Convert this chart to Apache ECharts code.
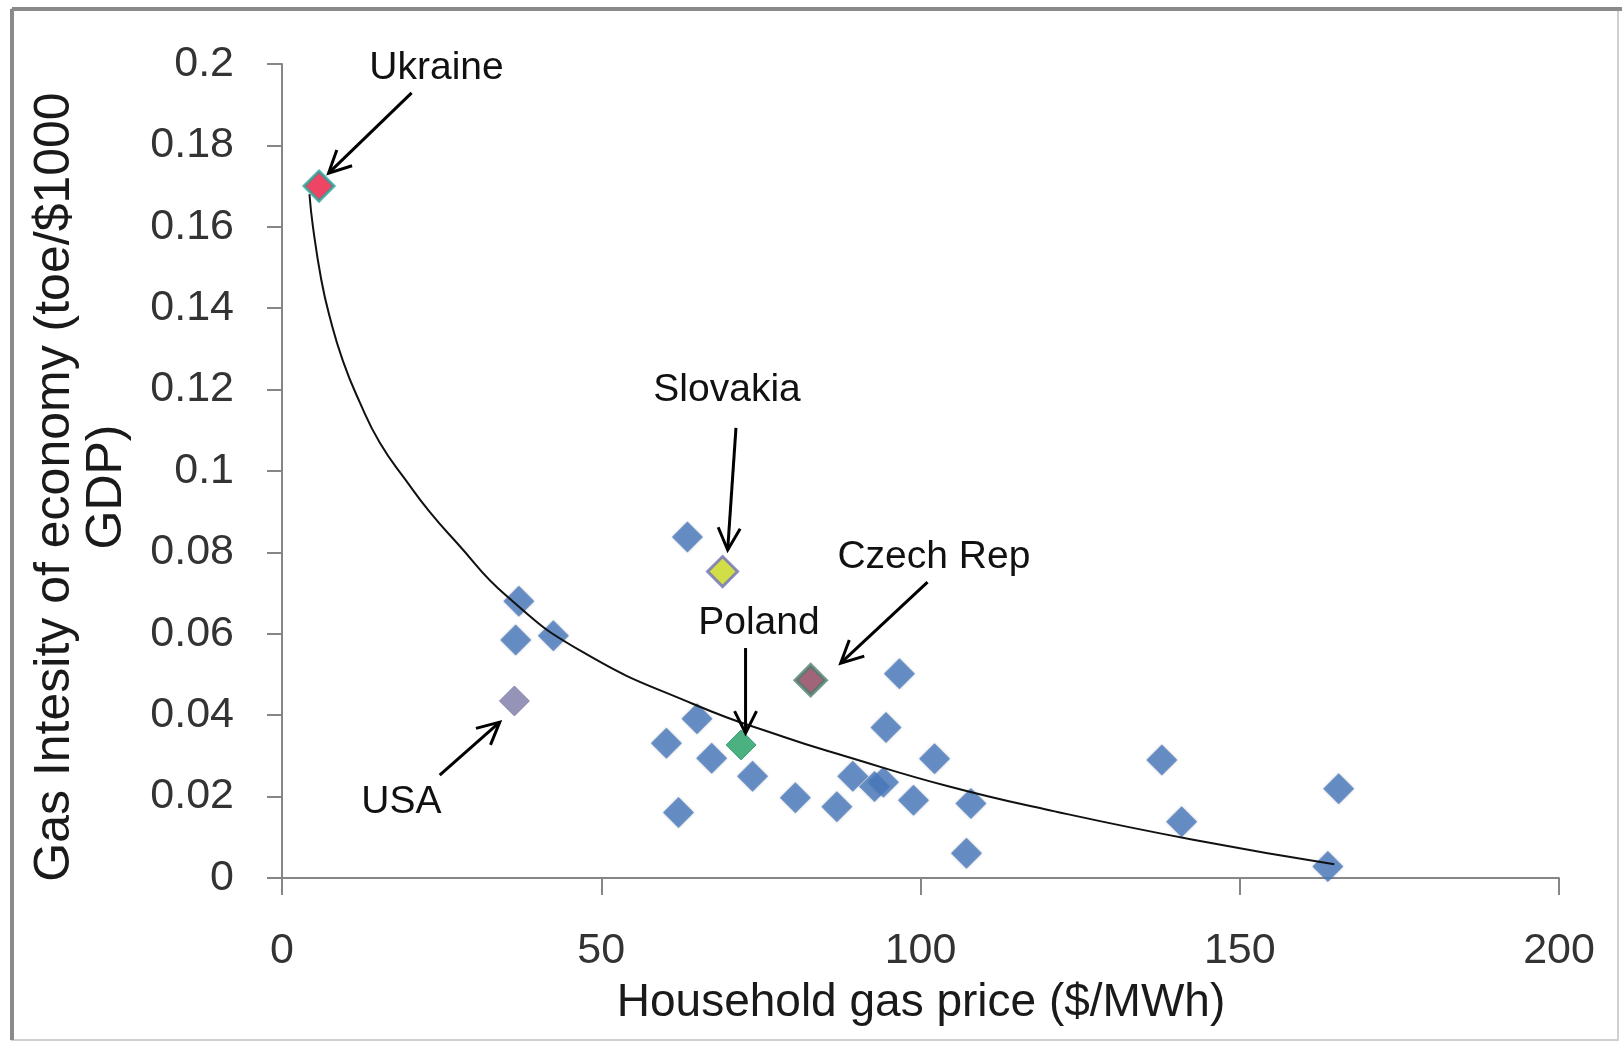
<!DOCTYPE html>
<html>
<head>
<meta charset="utf-8">
<script src="https://cdn.jsdelivr.net/npm/echarts@6/dist/echarts.min.js"></script>
<style>
html,body{margin:0;padding:0;background:#fff;}
#c{width:1622px;height:1045px;}
</style>
</head>
<body>
<div id="c"></div>
<script>
// ---- Data ----
const countryX = [63.5, 37.1, 36.6, 42.5, 96.7, 65.0, 60.2, 67.3, 73.7, 62.1, 94.6, 102.2, 80.4, 86.9, 89.4, 92.8, 94.2, 98.9, 107.9, 107.2, 137.8, 140.9, 165.5, 163.8];
const countryY = [0.0838, 0.0680, 0.0585, 0.0595, 0.0502, 0.0391, 0.0331, 0.0294, 0.0250, 0.0161, 0.0370, 0.0293, 0.0197, 0.0175, 0.0250, 0.0225, 0.0235, 0.0191, 0.0183, 0.0061, 0.0290, 0.0138, 0.0219, 0.0028];

const highlightNames = ["Ukraine", "Slovakia", "Czech Rep", "Poland", "USA"];
const highlightX = [5.8, 69.0, 82.8, 71.9, 36.4];
const highlightY = [0.170, 0.0753, 0.0486, 0.0327, 0.0435];

// trend curve
const trendX = [4.3, 4.85, 6.15, 7.45, 9.55, 12.15, 15.3, 19.5, 23.1, 27.3, 35.1, 47.0, 64.5, 78.5, 88.5, 104.2, 119.5, 142.7, 164.8];
const trendY = [0.168, 0.160, 0.147, 0.138, 0.127, 0.117, 0.107, 0.0975, 0.090, 0.0825, 0.0694, 0.0556, 0.0427, 0.0347, 0.0298, 0.0226, 0.0169, 0.0094, 0.0034];

// annotation placement (data coordinates)
const noteText = ["Ukraine", "Slovakia", "Czech Rep", "Poland", "USA"];
const noteX = [24.2, 69.7, 102.1, 74.7, 18.7];
const noteY = [0.199, 0.1199, 0.0789, 0.0627, 0.0187];
const arrowFromX = [20.3, 71.1, 101.1, 72.6, 24.7];
const arrowFromY = [0.1929, 0.1106, 0.0727, 0.0565, 0.0253];
const arrowToX = [7.3, 69.8, 87.5, 72.6, 34.1];
const arrowToY = [0.1732, 0.0806, 0.0528, 0.0356, 0.0383];

const xTicks = {min: 0, max: 200, interval: 50};
const yTicks = {min: 0, max: 0.2, interval: 0.02};

// ---- Styles ----
const highlightStyle = {
  "Ukraine":   {color: '#e8173c', borderColor: '#27a39a', borderWidth: 3},
  "Slovakia":  {color: '#c6d61a', borderColor: '#6f6fb8', borderWidth: 3},
  "Czech Rep": {color: '#8a3d58', borderColor: '#4d7d6c', borderWidth: 4},
  "Poland":    {color: '#1e9e62', borderColor: '#23906a', borderWidth: 1},
  "USA":       {color: '#7a78a6', borderColor: '#7a78a6', borderWidth: 1}
};
const FONT = "'Liberation Sans', Arial, sans-serif";

const chart = echarts.init(document.getElementById('c'), null, {renderer: 'canvas'});

const highlightData = highlightNames.map((n, i) => ({
  name: n,
  value: [highlightX[i], highlightY[i]],
  itemStyle: highlightStyle[n]
}));

const option = {
  animation: false,
  backgroundColor: '#ffffff',
  grid: {left: 282, right: 63, top: 64, bottom: 167},
  xAxis: {
    type: 'value', min: xTicks.min, max: xTicks.max, interval: xTicks.interval,
    axisLine: {show: true, onZero: false, lineStyle: {color: '#868686', width: 2}},
    axisTick: {show: true, inside: false, length: 17, lineStyle: {color: '#868686', width: 2}},
    splitLine: {show: false},
    axisLabel: {margin: 52, fontFamily: FONT, fontSize: 43, color: '#333'}
  },
  yAxis: {
    type: 'value', min: yTicks.min, max: yTicks.max, interval: yTicks.interval,
    axisLine: {show: true, onZero: false, lineStyle: {color: '#868686', width: 2}},
    axisTick: {show: true, inside: false, length: 15, lineStyle: {color: '#868686', width: 2}},
    splitLine: {show: false},
    axisLabel: {margin: 48, fontFamily: FONT, fontSize: 43, color: '#333',
      formatter: v => String(+v.toFixed(2))}
  },
  series: [
    {
      type: 'scatter', name: 'countries', symbol: 'diamond', symbolSize: 31, z: 2,
      itemStyle: {color: '#4a7cc0', shadowBlur: 3, shadowColor: 'rgba(0,0,0,0.25)'},
      data: countryX.map((x, i) => [x, countryY[i]])
    },
    {
      type: 'scatter', name: 'highlight', symbol: 'diamond', symbolSize: 30, z: 3,
      data: highlightData
    },
    {
      type: 'line', name: 'trend', showSymbol: false, smooth: 0.5, z: 4,
      lineStyle: {color: '#111', width: 2},
      data: trendX.map((x, i) => [x, trendY[i]])
    }
  ]
};
chart.setOption(option);

function P(x, y) { return chart.convertToPixel({gridIndex: 0}, [x, y]); }

const g = [];
// frame
g.push({type: 'rect', shape: {x: 12, y: 9, width: 1606, height: 1031},
  style: {fill: 'none', stroke: '#d0d0d0', lineWidth: 2}, z: 0});
g.push({type: 'line', shape: {x1: 12, y1: 9, x2: 1622, y2: 9}, style: {stroke: '#8a8a8a', lineWidth: 4}, z: 1});
g.push({type: 'line', shape: {x1: 12, y1: 9, x2: 12, y2: 1040}, style: {stroke: '#8a8a8a', lineWidth: 4}, z: 1});

// y axis title
g.push({type: 'text', x: 81, y: 487, rotation: Math.PI / 2,
  style: {text: 'Gas Intesity of economy (toe/$1000\nGDP)', font: '50px ' + FONT, fill: '#1a1a1a',
    align: 'center', verticalAlign: 'middle', lineHeight: 52}, z: 5});
// x axis title
g.push({type: 'text', x: 921, y: 1003,
  style: {text: 'Household gas price ($/MWh)', font: '46px ' + FONT, fill: '#1a1a1a',
    align: 'center', verticalAlign: 'middle'}, z: 5});

for (let i = 0; i < noteText.length; i++) {
  const t = P(noteX[i], noteY[i]);
  g.push({type: 'text', x: t[0], y: t[1],
    style: {text: noteText[i], font: '39px ' + FONT, fill: '#111', align: 'center', verticalAlign: 'middle'}, z: 6});
  const a = P(arrowFromX[i], arrowFromY[i]);
  const b = P(arrowToX[i], arrowToY[i]);
  const dx = b[0] - a[0], dy = b[1] - a[1];
  const len = Math.sqrt(dx * dx + dy * dy);
  const ux = dx / len, uy = dy / len;
  const nx = -uy, ny = ux;
  const L = 22, W = 11;
  g.push({type: 'line', shape: {x1: a[0], y1: a[1], x2: b[0], y2: b[1]},
    style: {stroke: '#000', lineWidth: 3}, z: 6});
  g.push({type: 'polyline', shape: {points: [
      [b[0] - ux * L + nx * W, b[1] - uy * L + ny * W],
      [b[0], b[1]],
      [b[0] - ux * L - nx * W, b[1] - uy * L - ny * W]]},
    style: {stroke: '#000', lineWidth: 3, fill: 'none', lineJoin: 'miter'}, z: 6});
}
chart.setOption({graphic: g});
</script>
</body>
</html>
